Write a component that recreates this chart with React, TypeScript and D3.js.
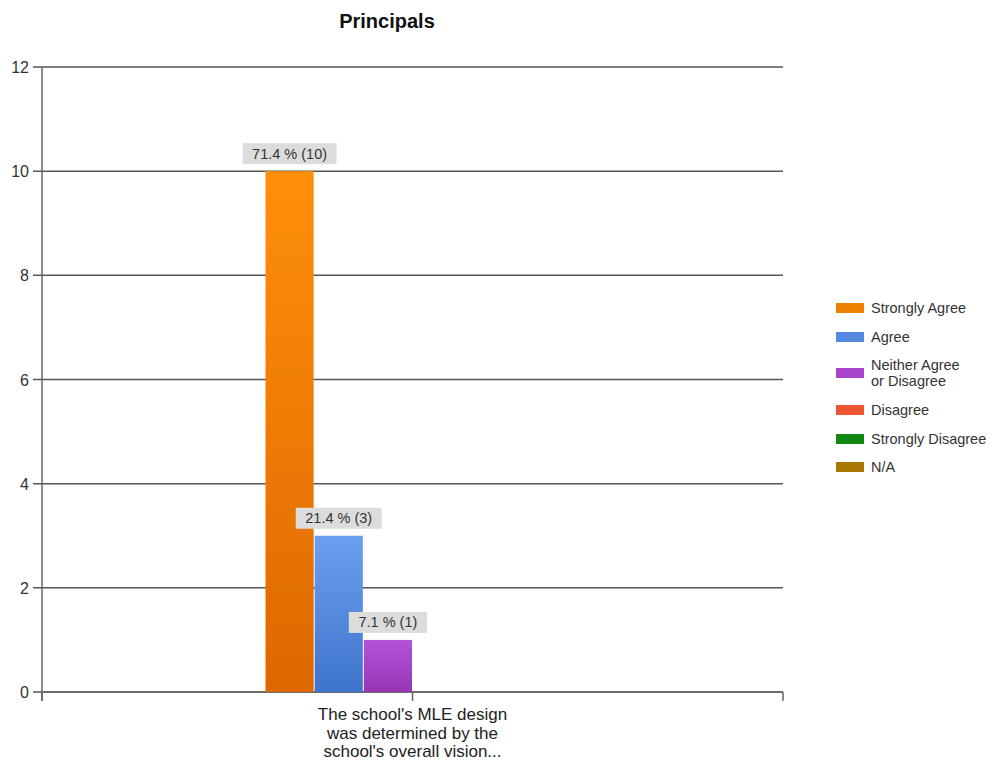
import React from "react";
import * as d3 from "d3";

const categories = ["The school's MLE design was determined by the school's overall vision..."];
const categoryLines = ["The school's MLE design", "was determined by the", "school's overall vision..."];
const seriesNames = ["Strongly Agree", "Agree", "Neither Agree or Disagree", "Disagree", "Strongly Disagree", "N/A"];
const legendLines = [["Strongly Agree"], ["Agree"], ["Neither Agree", "or Disagree"], ["Disagree"], ["Strongly Disagree"], ["N/A"]];
const counts = [10, 3, 1, 0, 0, 0];
const percents = [71.4, 21.4, 7.1, 0, 0, 0];
const yTicks = [0, 2, 4, 6, 8, 10, 12];
const colorsTop = ["#ff8f0a", "#6b9ff0", "#b452d8", "#f05a40", "#1a8a1a", "#b07a10"];
const colorsBottom = ["#dd6800", "#3f74cc", "#9636b6", "#d04030", "#0e6e0e", "#966000"];
const legendColors = ["#f08000", "#5588e0", "#a844cc", "#ee5533", "#118811", "#aa7700"];

export default function App() {
  const W = 995, H = 765;
  const left = 42, right = 783, top = 67, bottom = 692;
  const y = d3.scaleLinear().domain([0, 12]).range([bottom, top]);
  const x0 = d3.scaleBand().domain(categories).range([left, right]).paddingInner(0).paddingOuter(0);
  const groupW = 295;
  const cx = (x0(categories[0]) as number) + x0.bandwidth() / 2;
  const x1 = d3.scaleBand().domain(seriesNames).range([cx - groupW / 2, cx + groupW / 2]);
  const font = "'Liberation Sans', Arial, sans-serif";
  const legendY = [308, 337, 373, 410, 439, 467];

  return (
    <svg width={W} height={H} style={{ position: "absolute", left: 0, top: 0, background: "#fff" }} fontFamily={font}>
      <defs>
        {seriesNames.map((s, i) => (
          <linearGradient key={s} id={`g${i}`} x1="0" y1="0" x2="0" y2="1">
            <stop offset="0" stopColor={colorsTop[i]} />
            <stop offset="1" stopColor={colorsBottom[i]} />
          </linearGradient>
        ))}
      </defs>
      <text x={387} y={28} textAnchor="middle" fontWeight="bold" fontSize={20} fill="#111">Principals</text>
      {yTicks.map((t) => (
        <g key={t}>
          <line x1={33} x2={right} y1={y(t)} y2={y(t)} stroke="#555" strokeWidth={1.5} />
          <text x={29} y={y(t) + 6} textAnchor="end" fontSize={16} fill="#333">{t}</text>
        </g>
      ))}
      <line x1={left} x2={left} y1={top} y2={bottom + 9} stroke="#666" strokeWidth={1.5} />
      <line x1={left} x2={right} y1={bottom} y2={bottom} stroke="#666" strokeWidth={1.5} />
      {[left, cx, right].map((v, i) => (
        <line key={i} x1={v} x2={v} y1={bottom} y2={bottom + 9} stroke="#666" strokeWidth={1.5} />
      ))}
      {seriesNames.map((s, i) =>
        counts[i] > 0 ? (
          <rect key={s} x={(x1(s) as number) + 0.5} y={y(counts[i])} width={x1.bandwidth() - 1}
            height={y(0) - y(counts[i])} fill={`url(#g${i})`} />
        ) : null
      )}
      {seriesNames.map((s, i) => {
        if (counts[i] <= 0) return null;
        const bx = (x1(s) as number) + x1.bandwidth() / 2;
        const label = `${percents[i]} % (${counts[i]})`;
        const tw = label.length * 7.8 + 8;
        const by = y(counts[i]) - 8;
        return (
          <g key={s}>
            <rect x={bx - tw / 2} y={by - 20} width={tw} height={21} fill="#dcdcdc" />
            <text x={bx} y={by - 4.5} textAnchor="middle" fontSize={14.5} fill="#333">{label}</text>
          </g>
        );
      })}
      {categoryLines.map((l, i) => (
        <text key={i} x={cx} y={720 + i * 18.5} textAnchor="middle" fontSize={17} fill="#222">{l}</text>
      ))}
      {seriesNames.map((s, i) => (
        <g key={s}>
          <rect x={836} y={legendY[i] - 5} width={28} height={10} fill={legendColors[i]} />
          {legendLines[i].map((l, j) => (
            <text key={j} x={871} y={legendY[i] + 5 + (legendLines[i].length > 1 ? (j - 0.5) * 16 : 0)} fontSize={14.5} fill="#333">{l}</text>
          ))}
        </g>
      ))}
    </svg>
  );
}
